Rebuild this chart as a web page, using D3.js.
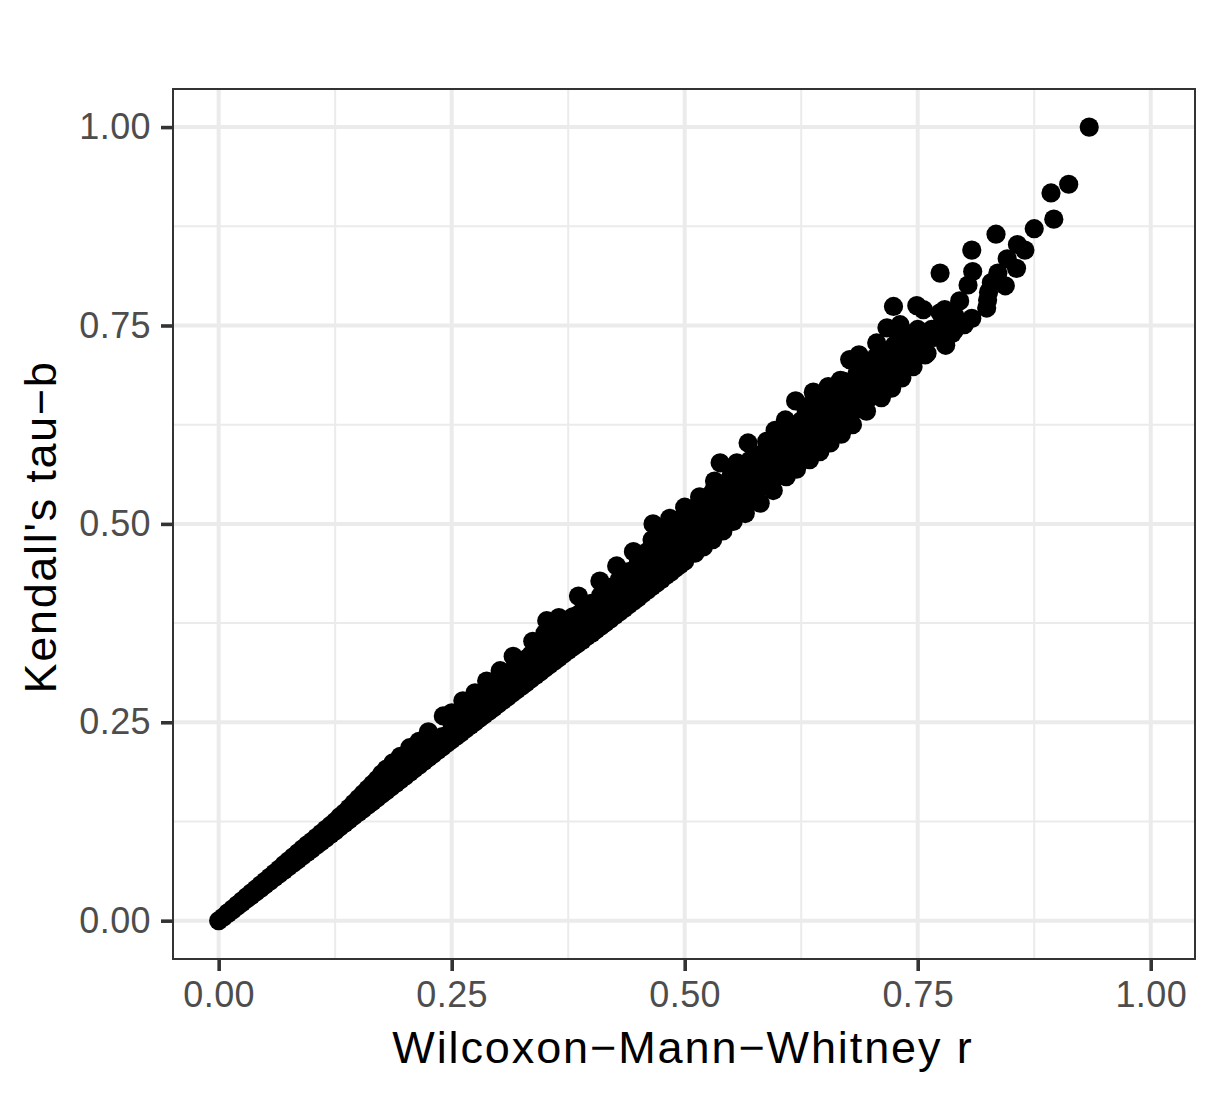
<!DOCTYPE html>
<html><head><meta charset="utf-8">
<script src="https://cdnjs.cloudflare.com/ajax/libs/d3/7.8.5/d3.min.js"></script>
<style>html,body{margin:0;padding:0;background:#fff}svg{display:block}text{font-family:"Liberation Sans",Arial,sans-serif}</style>
</head><body><svg id="c" width="1217" height="1096"></svg>
<script>
const majorTicks = [0, 0.25, 0.5, 0.75, 1];
const minorTicks = [0.125, 0.375, 0.625, 0.875];
const xTitle = "Wilcoxon\u2212Mann\u2212Whitney r";
const yTitle = "Kendall's tau\u2212b";

const lowerR = [0,.005,.01,.015,.02,.025,.03,.035,.04,.045,.05,.055,.06,.065,.07,.075,.08,.085,.09,.095,.1,.105,.11,.115,.12,.125,.13,.135,.14,.145,.15,.155,.16,.165,.17,.175,.18,.185,.19,.195,.2,.205,.21,.215,.22,.225,.23,.235,.24,.245,.25,.255,.26,.265,.27,.275,.28,.285,.29,.295,.3,.305,.31,.315,.32,.325,.33,.335,.34,.345,.35,.355,.36,.365,.37,.375,.38,.385,.39,.395,.4,.405,.41,.415,.42,.425,.43,.435,.44,.445,.45,.455,.46,.465,.47,.475,.48,.485,.49,.495,.5,.511,.52,.53,.541,.552,.565,.581,.595,.609,.62,.634,.645,.656,.668,.68,.695,.711,.722,.733,.745,.758];
const lowerTau = [0,.0045,.009,.0136,.0181,.0226,.0272,.0317,.0362,.0407,.0453,.0498,.0543,.0588,.0634,.0679,.0724,.0769,.0815,.086,.0905,.095,.0996,.104,.1086,.113,.118,.1225,.1272,.1318,.1363,.1409,.1455,.15,.1546,.1592,.1638,.1684,.173,.1776,.182,.1868,.1914,.196,.2006,.2052,.2098,.2144,.219,.2236,.228,.2325,.237,.2415,.246,.2505,.255,.2595,.264,.2685,.273,.2775,.282,.2865,.291,.2955,.3,.3045,.309,.3135,.318,.3225,.327,.3315,.336,.3405,.345,.349,.353,.358,.362,.3665,.371,.3755,.38,.3845,.389,.3935,.398,.4025,.407,.412,.4165,.421,.4255,.43,.435,.439,.444,.4485,.453,.463,.471,.48,.491,.503,.513,.526,.542,.5595,.569,.581,.591,.602,.613,.625,.642,.659,.671,.684,.698,.713];

const upperR = [.01,.015,.02,.025,.03,.035,.04,.045,.05,.055,.06,.065,.07,.075,.08,.085,.09,.095,.1,.105,.11,.115,.12,.125,.13,.135,.14,.145,.15,.155,.16,.165,.17,.175,.18,.187,.195,.205,.215,.225,.241,.25,.262,.275,.2875,.302,.316,.337,.352,.365,.386,.409,.427,.445,.466,.484,.5,.516,.532,.538,.556,.568,.588,.597,.608,.619,.638,.654,.667,.677,.687,.706,.717,.724,.731,.749,.756,.774];
const upperTau = [.01,.015,.02,.025,.03,.035,.04,.045,.05,.055,.06,.065,.0705,.0755,.0805,.0855,.0905,.0955,.1,.105,.11,.115,.12,.125,.131,.136,.142,.148,.154,.16,.166,.172,.178,.185,.191,.199,.207,.218,.226,.238,.258,.262,.277,.287,.302,.315,.333,.352,.378,.382,.409,.428,.447,.465,.5,.507,.521,.534,.554,.577,.577,.602,.604,.618,.631,.655,.666,.673,.681,.707,.713,.728,.747,.774,.751,.775,.77,.766];

const midR = [.01,.02,.03,.04,.05,.06,.07,.08,.09,.1,.11,.12,.13,.14,.15,.16,.17,.18,.19,.2,.21,.22,.23,.24,.25,.25,.26,.27,.27,.28,.29,.29,.3,.3,.31,.31,.32,.32,.33,.33,.34,.34,.35,.35,.35,.36,.36,.37,.37,.38,.38,.39,.39,.4,.4,.41,.41,.42,.42,.43,.43,.44,.44,.45,.45,.46,.46,.47,.47,.47,.48,.48,.49,.49,.49,.5,.5,.51,.51,.51,.52,.52,.53,.53,.53,.54,.54,.54,.55,.55,.55,.56,.56,.56,.57,.57,.57,.58,.58,.58,.59,.59,.59,.6,.6,.6,.61,.61,.61,.62,.62,.62,.63,.63,.63,.64,.64,.64,.65,.65,.65,.66,.66,.67,.67,.67,.68,.68,.69,.69,.69,.7,.7,.71,.71,.71,.72,.72,.73,.73,.73,.74,.74,.75,.75,.76,.76,.765,.775,.79];
const midTau = [.0098,.0192,.0292,.0382,.0485,.0572,.068,.0765,.0875,.096,.107,.116,.125,.134,.144,.155,.166,.176,.186,.197,.206,.214,.225,.232,.24,.25,.255,.258,.27,.273,.276,.289,.285,.3,.295,.31,.305,.32,.315,.33,.325,.34,.333,.35,.362,.343,.36,.35,.368,.362,.383,.37,.39,.38,.4,.39,.41,.4,.42,.408,.43,.42,.44,.428,.45,.44,.465,.445,.468,.485,.457,.48,.462,.482,.5,.475,.498,.48,.5,.515,.495,.515,.5,.522,.54,.505,.517,.538,.52,.543,.562,.53,.545,.565,.54,.56,.58,.545,.562,.585,.558,.58,.595,.57,.59,.605,.58,.6,.62,.585,.602,.625,.6,.625,.645,.6,.618,.638,.615,.64,.66,.633,.658,.635,.66,.68,.648,.675,.655,.68,.7,.667,.695,.68,.7,.72,.69,.715,.7,.72,.735,.71,.73,.725,.745,.715,.735,.745,.74,.745];

const fillR = [.255,.265,.275,.285,.285,.295,.295,.305,.305,.315,.315,.325,.325,.335,.335,.345,.345,.355,.355,.365,.365,.375,.375,.385,.385,.395,.395,.405,.405,.415,.415,.425,.425,.435,.435,.445,.445,.455,.455,.465,.465,.465,.475,.475,.475,.485,.485,.485,.495,.495,.495,.505,.505,.505,.515,.515,.515,.525,.525,.525,.535,.535,.535,.545,.545,.545,.555,.555,.555,.565,.565,.565,.575,.575,.575,.585,.585,.585,.595,.595,.595,.605,.605,.605,.615,.615,.615,.625,.625,.625,.635,.635,.635,.635,.645,.645,.645,.655,.655,.655,.665,.665,.665,.675,.675,.675,.685,.685,.685,.695,.695,.695,.705,.705,.705,.715,.715,.715,.725,.725,.725,.735,.735,.735,.745,.745,.745,.755,.755];
const fillTau = [.245,.255,.262,.27,.283,.28,.295,.29,.305,.3,.315,.31,.325,.32,.335,.33,.345,.338,.355,.347,.365,.356,.372,.365,.385,.375,.395,.38,.4,.385,.405,.4,.42,.405,.425,.42,.44,.43,.45,.438,.46,.48,.45,.47,.49,.455,.475,.495,.465,.485,.505,.475,.495,.51,.485,.505,.525,.49,.51,.53,.5,.52,.545,.51,.53,.55,.52,.54,.56,.53,.55,.57,.54,.56,.58,.55,.57,.59,.555,.575,.6,.57,.59,.61,.58,.6,.62,.59,.61,.63,.595,.615,.635,.65,.605,.625,.65,.615,.635,.655,.625,.645,.665,.635,.655,.675,.645,.665,.69,.655,.675,.695,.665,.685,.71,.675,.695,.715,.685,.705,.725,.695,.715,.73,.705,.725,.74,.72,.74];

const outerR = [.934,.912,.893,.896,.875,.834,.808,.857,.865,.774,.809,.846,.856,.836,.804,.844,.829,.826,.824,.795,.779,.808,.8,.78,.775,.768,.787,.79,.825];
const outerTau = [1,.928,.917,.884,.872,.865,.845,.852,.845,.816,.818,.834,.822,.816,.801,.8,.804,.792,.772,.781,.77,.759,.751,.725,.75,.735,.74,.762,.782];

const pointsR = [...lowerR, ...upperR, ...midR, ...fillR, ...outerR];
const pointsTau = [...lowerTau, ...upperTau, ...midTau, ...fillTau, ...outerTau];

const panel = {l:173, r:1195, t:89, b:959};
const x = d3.scaleLinear().domain([-0.049, 1.0475]).range([panel.l, panel.r]);
const y = d3.scaleLinear().domain([-0.0483, 1.048]).range([panel.b, panel.t]);
const svg = d3.select("#c");

const g = svg.append("g");
g.append("g").selectAll("line").data(minorTicks).join("line").attr("x1",x).attr("x2",x).attr("y1",panel.t).attr("y2",panel.b).attr("stroke","#ebebeb").attr("stroke-width",2);
g.append("g").selectAll("line").data(minorTicks).join("line").attr("y1",y).attr("y2",y).attr("x1",panel.l).attr("x2",panel.r).attr("stroke","#ebebeb").attr("stroke-width",2);
g.append("g").selectAll("line").data(majorTicks).join("line").attr("x1",x).attr("x2",x).attr("y1",panel.t).attr("y2",panel.b).attr("stroke","#ebebeb").attr("stroke-width",4);
g.append("g").selectAll("line").data(majorTicks).join("line").attr("y1",y).attr("y2",y).attr("x1",panel.l).attr("x2",panel.r).attr("stroke","#ebebeb").attr("stroke-width",4);

svg.append("g").selectAll("circle").data(pointsR).join("circle")
  .attr("cx",d=>x(d)).attr("cy",(d,i)=>y(pointsTau[i])).attr("r",9.6).attr("fill","#000");

svg.append("rect").attr("x",panel.l).attr("y",panel.t).attr("width",panel.r-panel.l).attr("height",panel.b-panel.t)
  .attr("fill","none").attr("stroke","#333").attr("stroke-width",2);

const fmt = d3.format(".2f");
const ax = svg.append("g").attr("transform",`translate(0,${panel.b})`).call(d3.axisBottom(x).tickValues(majorTicks).tickFormat(fmt).tickSize(12).tickPadding(10));
const ay = svg.append("g").attr("transform",`translate(${panel.l},0)`).call(d3.axisLeft(y).tickValues(majorTicks).tickFormat(fmt).tickSize(12).tickPadding(10));
[ax,ay].forEach(a=>{
  a.select(".domain").remove();
  a.selectAll("line").attr("stroke","#333").attr("stroke-width",3.6);
  a.selectAll("text").attr("fill","#4d4d4d").style("font-size","36px").style("letter-spacing","0.4px").style("font-family",'"Liberation Sans",Arial,sans-serif');
});

svg.append("text").attr("x",683).attr("y",1063).attr("text-anchor","middle").attr("font-size",45).attr("letter-spacing","1.9px").attr("fill","#000").text(xTitle);
svg.append("text").attr("transform","translate(56,527) rotate(-90)").attr("text-anchor","middle").attr("font-size",45).attr("letter-spacing","1.7px").attr("fill","#000").text(yTitle);
</script></body></html>
